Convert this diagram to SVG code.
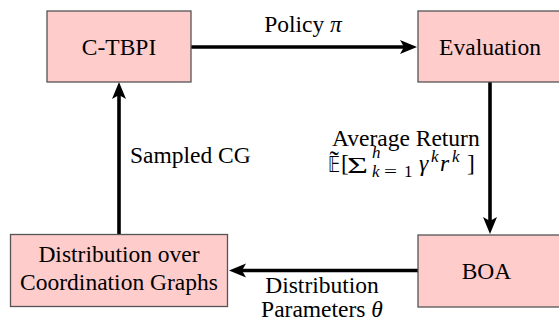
<svg xmlns="http://www.w3.org/2000/svg" width="559" height="329" viewBox="0 0 559 329">
<style>
.box{fill:#ffcccc;stroke:#555;stroke-width:1.3}
text{font-family:'Liberation Serif','Times New Roman',serif;fill:#000}
.t{font-size:23.5px}
.m{font-style:italic}
.s{font-size:17px}
.c{stroke:#000;stroke-width:3.6;fill:none;marker-end:url(#ah)}
</style>
<defs>
<marker id="ah" markerUnits="userSpaceOnUse" viewBox="-8 -8 20 16" markerWidth="20" markerHeight="16" refX="0" refY="0" orient="auto">
<path d="M10,0 L-7,-7 L-3,0 L-7,7 Z" fill="#000"/>
</marker>
</defs>
<g id="connectors">
<path class="c" d="M191,47 H407"/>
<path class="c" d="M490,82 V224"/>
<path class="c" d="M418,270.5 H239"/>
<path class="c" d="M119,234 V92"/>
</g>
<g id="ctbpi">
<rect class="box" x="47" y="11" width="144" height="71"/>
<text class="t" x="119" y="54.5" text-anchor="middle">C-TBPI</text>
</g>
<g id="evaluation">
<rect class="box" x="418" y="11" width="144" height="71"/>
<text class="t" x="490" y="54.5" text-anchor="middle">Evaluation</text>
</g>
<g id="boa">
<rect class="box" x="418" y="235" width="144" height="72"/>
<text class="t" x="486.5" y="279" text-anchor="middle">BOA</text>
</g>
<g id="distribution">
<rect class="box" x="10.5" y="234.5" width="217" height="72"/>
<text class="t" x="119" y="262" text-anchor="middle">Distribution over</text>
<text class="t" x="119" y="290" text-anchor="middle">Coordination Graphs</text>
</g>
<g id="labels">
<text class="t" x="303" y="32" text-anchor="middle">Policy <tspan class="m">π</tspan></text>
<text class="t" x="130" y="163">Sampled CG</text>
<text class="t" x="332" y="146">Average Return</text>
<text class="t" x="322" y="293" text-anchor="middle">Distribution</text>
<text class="t" x="322" y="317" text-anchor="middle">Parameters <tspan class="m">θ</tspan></text>
<g id="formula">
<text x="328" y="171.5" font-size="22" textLength="12" lengthAdjust="spacingAndGlyphs">𝔼</text>
<text x="329.5" y="170" font-size="28">˜</text>
<text class="t" x="341" y="171">[</text>
<text x="347" y="173" font-size="24" textLength="21" lengthAdjust="spacingAndGlyphs">Σ</text>
<text class="m s" x="372" y="158">h</text>
<text class="m s" x="372" y="177">k</text>
<text class="s" x="384" y="177" textLength="13" lengthAdjust="spacingAndGlyphs">=</text>
<text class="s" x="404" y="177">1</text>
<text class="m t" x="419" y="171">γ</text>
<text class="m s" x="431" y="162">k</text>
<text class="m t" x="440" y="171">r</text>
<text class="m s" x="452" y="162">k</text>
<text class="t" x="467" y="171">]</text>
</g>
</g>
</svg>
